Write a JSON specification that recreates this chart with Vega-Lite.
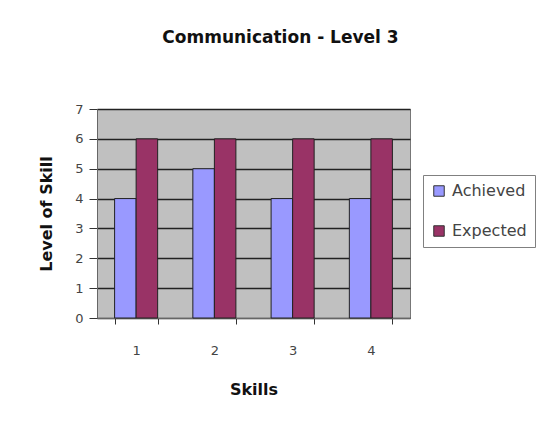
{
  "$schema": "https://vega.github.io/schema/vega-lite/v6.json",
  "width": 313,
  "height": 209,
  "autosize": "none",
  "padding": {"left": 97, "top": 109, "right": 143, "bottom": 96},
  "background": "white",
  "title": {
    "text": "Communication - Level 3",
    "font": "DejaVu Sans",
    "fontSize": 17,
    "fontWeight": "bold",
    "color": "#111",
    "anchor": "middle",
    "dx": 27,
    "offset": 56
  },
  "data": {
    "values": [
      {"Skill": "1", "Series": "Achieved", "Level": 4},
      {"Skill": "1", "Series": "Expected", "Level": 6},
      {"Skill": "2", "Series": "Achieved", "Level": 5},
      {"Skill": "2", "Series": "Expected", "Level": 6},
      {"Skill": "3", "Series": "Achieved", "Level": 4},
      {"Skill": "3", "Series": "Expected", "Level": 6},
      {"Skill": "4", "Series": "Achieved", "Level": 4},
      {"Skill": "4", "Series": "Expected", "Level": 6}
    ]
  },
  "mark": {"type": "bar", "stroke": "#222", "strokeWidth": 1},
  "encoding": {
    "x": {
      "field": "Skill",
      "type": "ordinal",
      "scale": {"paddingInner": 0.45, "paddingOuter": 0.225},
      "axis": {
        "title": "Skills",
        "labelAngle": 0,
        "tickBand": "extent",
        "tickSize": 6,
        "tickColor": "#333",
        "domainColor": "#666",
        "labelPadding": 20,
        "labelFont": "DejaVu Sans",
        "labelFontSize": 13,
        "labelColor": "#444",
        "titleFont": "DejaVu Sans",
        "titleFontSize": 16,
        "titleFontWeight": "bold",
        "titleColor": "#111",
        "titlePadding": 24,
        "grid": false
      }
    },
    "xOffset": {"field": "Series", "type": "nominal", "scale": {"paddingInner": 0, "paddingOuter": 0}},
    "y": {
      "field": "Level",
      "type": "quantitative",
      "scale": {"domain": [0, 7], "nice": false},
      "axis": {
        "title": "Level of Skill",
        "values": [0, 1, 2, 3, 4, 5, 6, 7],
        "tickSize": 8,
        "tickColor": "#333",
        "domainColor": "#666",
        "grid": true,
        "gridColor": "#222",
        "gridWidth": 1.5,
        "gridOpacity": 1,
        "labelPadding": 6,
        "labelFont": "DejaVu Sans",
        "labelFontSize": 13,
        "labelColor": "#444",
        "titleFont": "DejaVu Sans",
        "titleFontSize": 16,
        "titleFontWeight": "bold",
        "titleColor": "#111",
        "titlePadding": 20
      }
    },
    "color": {
      "field": "Series",
      "type": "nominal",
      "scale": {"domain": ["Achieved", "Expected"], "range": ["#9999FF", "#993366"]},
      "legend": {
        "title": null,
        "orient": "none",
        "legendX": 326,
        "legendY": 66,
        "padding": 8,
        "strokeColor": "#808080",
        "fillColor": "white",
        "symbolType": "square",
        "symbolSize": 110,
        "symbolStrokeColor": "#333",
        "symbolStrokeWidth": 1,
        "labelFont": "DejaVu Sans",
        "labelFontSize": 16,
        "labelColor": "#444",
        "labelOffset": 5,
        "rowPadding": 24,
        "labelLimit": 200
      }
    }
  },
  "config": {
    "view": {"fill": "#C0C0C0", "stroke": "#777", "strokeWidth": 1}
  }
}
